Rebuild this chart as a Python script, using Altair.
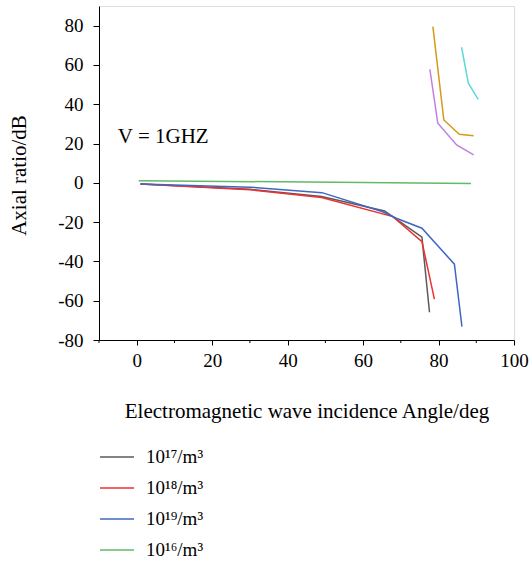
import altair as alt
import pandas as pd

# Series values (x = angle in deg, y = axial ratio in dB)
x_1e17 = [1.0, 30.0, 49.0, 65.7, 75.6, 77.6]
y_1e17 = [-0.6, -3.3, -7.0, -14.3, -27.7, -65.9]

x_1e18 = [1.0, 30.0, 49.0, 67.9, 75.6, 78.9]
y_1e18 = [-0.6, -3.5, -7.5, -17.2, -29.9, -59.2]

x_1e19 = [1.0, 30.0, 49.1, 65.2, 68.8, 75.6, 84.2, 86.2]
y_1e19 = [-0.6, -2.2, -5.0, -14.7, -18.0, -23.1, -41.4, -73.2]

x_1e16 = [0.5, 88.6]
y_1e16 = [1.1, -0.3]

x_orange = [78.5, 81.4, 85.5, 89.3]
y_orange = [79.5, 32.0, 24.7, 23.9]

x_purple = [77.7, 79.8, 84.8, 89.3]
y_purple = [57.8, 30.3, 19.3, 14.2]

x_cyan = [86.1, 87.9, 90.5]
y_cyan = [69.0, 50.7, 42.5]

series_names = ["10¹⁷/m³", "10¹⁸/m³", "10¹⁹/m³", "10¹⁶/m³", "s5", "s6", "s7"]
series_colors = ["#5a5a5a", "#ee3030", "#3f67c2", "#5fba6a", "#d49a1a", "#c080e0", "#60d8d8"]
legend_names = ["10¹⁷/m³", "10¹⁸/m³", "10¹⁹/m³", "10¹⁶/m³"]

# Axis tick values
x_major_ticks = [0, 20, 40, 60, 80, 100]
x_minor_ticks = [-10, 10, 30, 50, 70, 90]
y_ticks = list(range(-80, 91, 10))

xs = [x_1e17, x_1e18, x_1e19, x_1e16, x_orange, x_purple, x_cyan]
ys = [y_1e17, y_1e18, y_1e19, y_1e16, y_orange, y_purple, y_cyan]

rows = []
for name, xv, yv in zip(series_names, xs, ys):
    for i, (a, b) in enumerate(zip(xv, yv)):
        rows.append({"series": name, "angle": a, "ar": b, "order": i})
df = pd.DataFrame(rows)

FONT = "Liberation Serif"
PLOT_H = 334

label_expr = "datum.value % 20 == 0 ? '' + datum.value : ''"

x_scale = alt.Scale(domain=[-10, 100], nice=False, zero=False)

lines = alt.Chart(df).mark_line(strokeWidth=1.5, clip=True).encode(
    x=alt.X("angle:Q", scale=x_scale,
            axis=alt.Axis(values=x_major_ticks, labelOverlap=False, format="d",
                          labelFlush=False, tickSize=5,
                          title="Electromagnetic wave incidence Angle/deg",
                          titleY=77, titleBaseline="alphabetic",
                          grid=False, domainColor="black", tickColor="black",
                          labelFont=FONT, labelFontSize=19, labelColor="black",
                          labelPadding=6, titleFont=FONT, titleFontSize=21,
                          titleFontWeight="normal", titleColor="black")),
    y=alt.Y("ar:Q",
            scale=alt.Scale(domain=[-80, 90], nice=False, zero=False),
            axis=alt.Axis(values=y_ticks, labelExpr=label_expr, labelOverlap=False,
                          tickSize=alt.condition("datum.value % 20 == 0", alt.value(6), alt.value(3)),
                          title="Axial ratio/dB",
                          titleX=-80, titleY=169, titleBaseline="middle",
                          grid=False, domainColor="black", tickColor="black",
                          labelFont=FONT, labelFontSize=19, labelColor="black",
                          labelPadding=10, titleFont=FONT, titleFontSize=21,
                          titleFontWeight="normal", titleColor="black")),
    color=alt.Color("series:N",
                    scale=alt.Scale(domain=series_names, range=series_colors),
                    legend=alt.Legend(values=legend_names, title=None, orient="none",
                                      legendX=0, legendY=433,
                                      symbolType="stroke", symbolSize=1156,
                                      symbolStrokeWidth=1.5,
                                      labelFont=FONT, labelFontSize=19,
                                      labelColor="black", rowPadding=3,
                                      labelOffset=11)),
    detail="series:N",
    order="order:Q",
)

minor = alt.Chart(pd.DataFrame({"angle": x_minor_ticks})).mark_rule(
    color="black", strokeWidth=1, clip=False
).encode(
    x=alt.X("angle:Q", scale=x_scale),
    y=alt.value(PLOT_H),
    y2=alt.value(PLOT_H + 3),
)

note = alt.Chart(pd.DataFrame({"angle": [-5.0], "ar": [23.5], "t": ["V = 1GHZ"]})).mark_text(
    align="left", baseline="middle", font=FONT, fontSize=21, color="black"
).encode(x="angle:Q", y="ar:Q", text="t:N")

chart = alt.layer(lines, minor, note).properties(
    width=415, height=PLOT_H,
    autosize=alt.AutoSizeParams(type="none"),
    padding={"left": 99, "top": 6, "right": 15, "bottom": 225},
).configure_view(stroke=None).configure(background="white")

chart.save("out.html", embed_options={"renderer": "svg", "actions": False})
